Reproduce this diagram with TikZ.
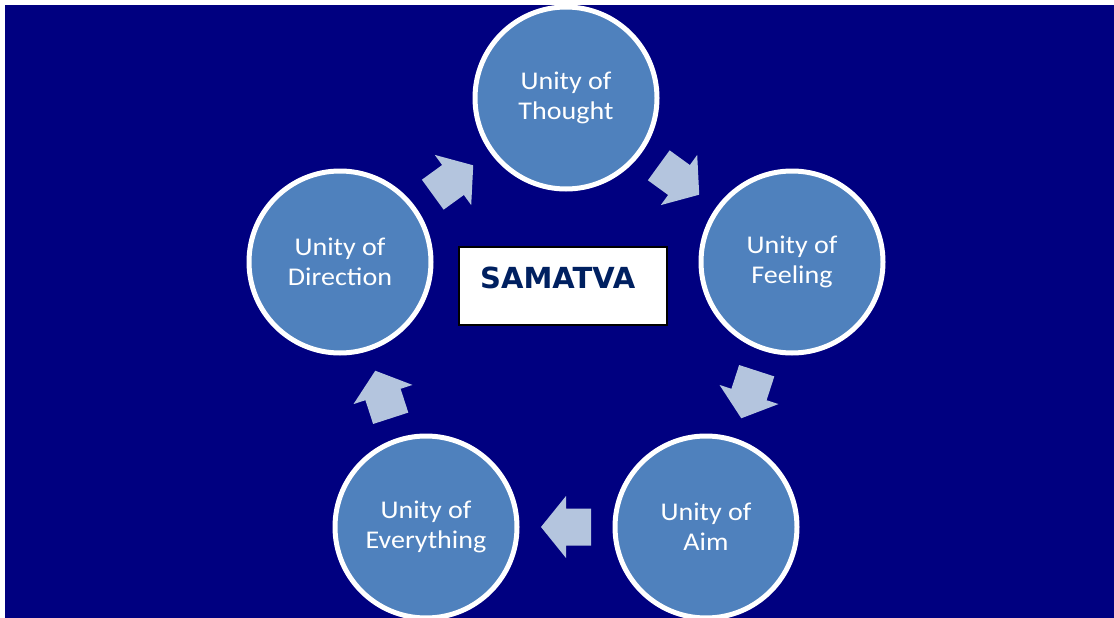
\documentclass[tikz,border=0pt]{standalone}
\usepackage{fontspec}
\newfontfamily\circfont[FakeStretch=1.1]{Carlito}
\newfontfamily\titlefont{DejaVu Sans}
\usetikzlibrary{calc}
\definecolor{navybg}{RGB}{0,0,128}
\definecolor{circfill}{RGB}{79,129,189}
\definecolor{arrowc}{RGB}{180,197,222}
\definecolor{titlec}{RGB}{0,32,96}
\newcommand\flowarrow[2]{%
  \path let \p1=($(#2)-(#1)$), \n1={atan2(\y1,\x1)} in \pgfextra{\xdef\flowang{\n1}};
  \fill[flowarrowstyle, shift={($(#1)!0.5!(#2)$)}, rotate=\flowang]
    (25,0) -- (0,31) -- (0,18.5) -- (-25,18.5) -- (-25,-18.5) -- (0,-18.5) -- (0,-31) -- cycle;
}
\begin{document}
\begin{tikzpicture}[x=1pt,y=-1pt,
  unity/.style={circle, draw=white, line width=5pt, fill=circfill, minimum size=182pt,
    inner sep=0pt, align=center, text=white, font=\circfont\fontsize{25.5}{30}\selectfont},
  flowarrowstyle/.style={fill=arrowc, draw=none},
  titlebox/.style={draw=black, line width=2pt, fill=white, minimum width=208pt, minimum height=78pt, inner sep=0pt},
  titletext/.style={text=titlec, font=\titlefont\bfseries\fontsize{29}{34}\selectfont, inner sep=0pt}
  ]
\useasboundingbox (0,0) rectangle (1114,618);
\clip (0,0) rectangle (1114,618);
\fill[white] (0,0) rectangle (1114,618);
\fill[navybg] (5,5) rectangle (1114,618);

\node[unity] (T) at (566,98) {Unity of\\Thought};
\node[unity] (F) at (792,262) {Unity of\\Feeling};
\node[unity] (A) at (706,527) {Unity of\\Aim};
\node[unity] (E) at (426,527) {Unity of\\Everything};
\node[unity] (D) at (340,262) {Unity of\\Direction};

\node[titlebox] (box) at (563,286) {};
\node[titletext, anchor=base west] (title) at (480,288) {SAMATVA};

\flowarrow{T}{F}
\flowarrow{F}{A}
\flowarrow{A}{E}
\flowarrow{E}{D}
\flowarrow{D}{T}
\end{tikzpicture}
\end{document}
